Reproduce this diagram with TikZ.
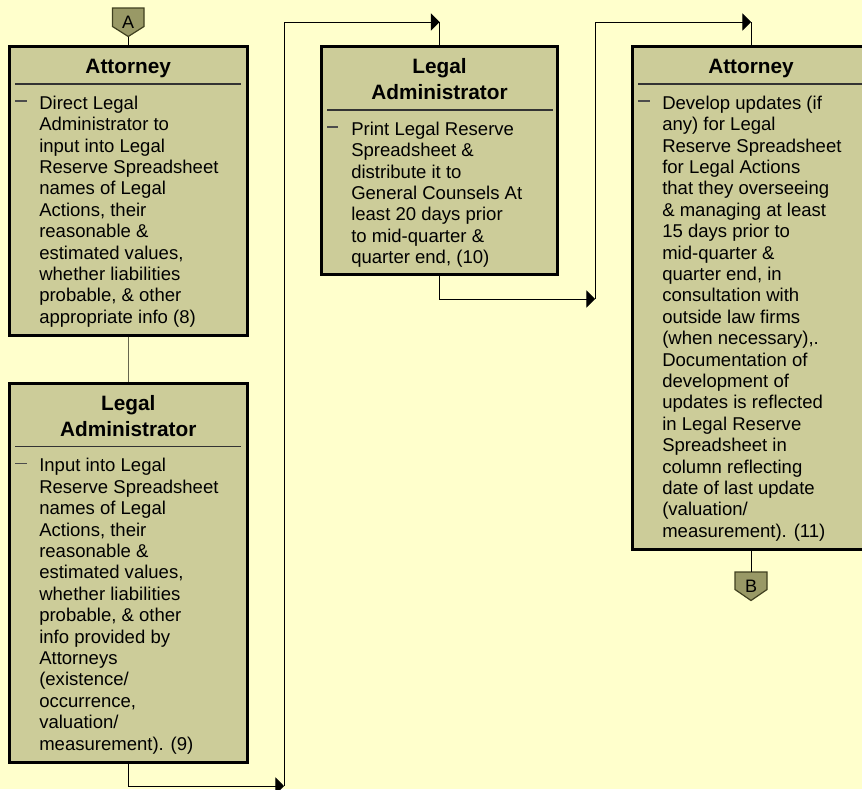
\documentclass[tikz,border=0pt]{standalone}
\usepackage{fontspec}
\setmainfont{Liberation Sans}
\usetikzlibrary{arrows.meta}
\definecolor{bg}{HTML}{FFFFCC}
\definecolor{boxfill}{HTML}{CCCC99}
\definecolor{pentafill}{HTML}{999966}
\definecolor{pentaline}{HTML}{404020}
\definecolor{midline}{HTML}{66664D}
\begin{document}
\begin{tikzpicture}[x=0.75pt, y=-0.75pt,
  box/.style={rectangle, draw=black, line width=2.25pt, fill=boxfill, inner sep=0pt},
  title/.style={font=\bfseries\fontsize{15.6pt}{19.5pt}\selectfont, align=center, anchor=north, inner sep=0pt},
  body/.style={font=\fontsize{13.9pt}{16.05pt}\selectfont, align=left, anchor=north west, inner sep=0pt},
  sepline/.style={draw=black!80, line width=1pt},
  bulletline/.style={draw=black!70, line width=0.8pt},
  conn/.style={draw=black, line width=0.75pt},
  arr/.style={conn, -{Triangle[length=6.4pt,width=12.8pt]}},
  penta/.style={draw=pentaline, fill=pentafill, line width=0.9pt},
  plabel/.style={font=\fontsize{13.5pt}{16pt}\selectfont, inner sep=0pt, anchor=base}
]
\useasboundingbox (0,0) rectangle (862,789);
\clip (0,0) rectangle (862,789);
\fill[bg] (0,0) rectangle (862,789);

% boxes
\node[box, minimum width=237.5*0.75pt, minimum height=289*0.75pt] (b1) at (128.25,190.5) {};
\node[box, minimum width=237.5*0.75pt, minimum height=378.5*0.75pt] (b2) at (128.25,572.75) {};
\node[box, minimum width=236*0.75pt, minimum height=228.5*0.75pt] (b3) at (439.5,160.25) {};
\node[box, minimum width=237*0.75pt, minimum height=503*0.75pt] (b4) at (751,297.5) {};

% titles
\node[title] (h1) at (128.25,54.33) {\rule{0pt}{14pt}Attorney};
\node[title] (h2) at (128.25,391.8) {\rule{0pt}{14pt}Legal\\Administrator};
\node[title] (h3) at (439.5,54.33) {\rule{0pt}{14pt}Legal\\Administrator};
\node[title] (h4) at (751,54.33) {\rule{0pt}{14pt}Attorney};

% separators
\draw[sepline] (15,84) -- (241,84);
\draw[sepline] (15,446.7) -- (241,446.7);
\draw[sepline] (327,110) -- (553,110);
\draw[sepline] (638,84) -- (866,84);

% bullet dashes
\draw[bulletline] (15,101) -- (27,101);
\draw[bulletline] (15,463.7) -- (27,463.7);
\draw[bulletline] (327,127) -- (338,127);
\draw[bulletline] (638,101) -- (650,101);

% body texts
\node[body] (t1) at (39,93) {\rule{0pt}{12pt}Direct Legal\\Administrator to\\input into Legal\\Reserve Spreadsheet\\names of Legal\\Actions, their\\reasonable \&\\estimated values,\\whether liabilities\\probable, \& other\\appropriate info (8)};
\node[body] (t2) at (39,455.7) {\rule{0pt}{12pt}Input into Legal\\Reserve Spreadsheet\\names of Legal\\Actions, their\\reasonable \&\\estimated values,\\whether liabilities\\probable, \& other\\info provided by\\Attorneys\\(existence/\\occurrence,\\valuation/\\measurement). (9)};
\node[body] (t3) at (351,119) {\rule{0pt}{12pt}Print Legal Reserve\\Spreadsheet \&\\distribute it to\\General Counsels At\\least 20 days prior\\to mid-quarter \&\\quarter end, (10)};
\node[body] (t4) at (662,93) {\rule{0pt}{12pt}Develop updates (if\\any) for Legal\\Reserve Spreadsheet\\for Legal Actions\\that they overseeing\\\& managing at least\\15 days prior to\\mid-quarter \&\\quarter end, in\\consultation with\\outside law firms\\(when necessary),.\\Documentation of\\development of\\updates is reflected\\in Legal Reserve\\Spreadsheet in\\column reflecting\\date of last update\\(valuation/\\measurement). (11)};

% off-page connectors
\draw[penta] (112.5,8) -- (144,8) -- (144,26.5) -- (128.25,36.5) -- (112.5,26.5) -- cycle;
\coordinate (pA) at (128.25,36.5);
\node[plabel] (la) at (128.25,28) {A};
\draw[penta] (735,572) -- (767,572) -- (767,589.5) -- (751,600.5) -- (735,589.5) -- cycle;
\coordinate (pB) at (751,572);
\node[plabel] (lb) at (751,592) {B};

% helper coordinates
\coordinate (ytop) at (0,22);
\coordinate (ybot1) at (0,786);
\coordinate (ybot2) at (0,299);
\coordinate (xk1) at (284,0);
\coordinate (xk2) at (595,0);
\coordinate (k1) at (xk1 |- ybot1);
\coordinate (k2) at (b3.north |- ytop);
\coordinate (k3) at (xk2 |- ybot2);
\coordinate (k4) at (b4.north |- ytop);

% connectors
\draw[conn] (pA) -- (b1.north);
\draw[conn, draw=midline] (b1.south) -- (b2.north);
\draw[arr] (b2.south) |- (k1);
\draw[arr] (k1) |- (k2);
\draw[conn] (k2) -- (b3.north);
\draw[arr] (b3.south) |- (k3);
\draw[arr] (k3) |- (k4);
\draw[conn] (k4) -- (b4.north);
\draw[conn] (b4.south) -- (pB);
\end{tikzpicture}
\end{document}
